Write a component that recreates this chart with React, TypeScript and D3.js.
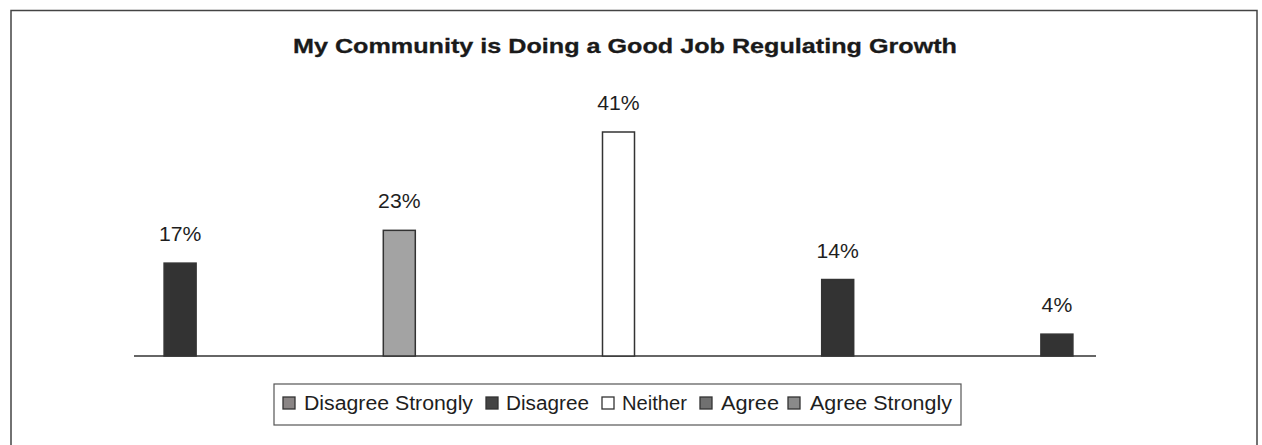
import React from "react";
import * as d3 from "d3";

const categories = ["Disagree Strongly", "Disagree", "Neither", "Agree", "Agree Strongly"];
const values = [17, 23, 41, 14, 4];
const labels = ["17%", "23%", "41%", "14%", "4%"];
const barFills = ["#333333", "#a3a3a3", "#ffffff", "#333333", "#333333"];
const legendFills = ["#8a8585", "#444444", "#ffffff", "#707070", "#8a8a8a"];
const title = "My Community is Doing a Good Job Regulating Growth";

export default function App() {
  const W = 1262, H = 445;
  const baseY = 356;
  const x = d3.scaleBand<string>().domain(categories).range([70.5, 1166.5]).paddingInner(0.854).paddingOuter(0.427);
  const y = d3.scaleLinear().domain([0, 41]).range([baseY, 132]);
  const font = "Arial, 'Liberation Sans', Helvetica, sans-serif";

  const legX = 274, legY = 384, legW = 687, legH = 41;
  const swX = [283, 486, 602, 700, 788];
  const txX = [304, 506, 622, 721, 810];
  const txW = [169, 83, 65, 58, 142];
  return (
    <svg width={W} height={H} style={{ position: "absolute", left: 0, top: 0, background: "#fff" }}>
      <rect x={0} y={0} width={W} height={H} fill="#fff" />
      <path d={`M11,${H} L11,10.5 L1257,10.5 L1257,${H}`} fill="none" stroke="#444" strokeWidth={1.5} />
      <text x={293} y={53} fontFamily={font} fontWeight="bold" fontSize={21} fill="#1a1a1a"
        stroke="#1a1a1a" strokeWidth={0.3}
        textLength={664} lengthAdjust="spacingAndGlyphs">{title}</text>
      <line x1={134} x2={1096} y1={baseY} y2={baseY} stroke="#333" strokeWidth={1.5} />
      {categories.map((c, i) => {
        const cx = x(c)! + x.bandwidth() / 2;
        const ty = y(values[i]) - 22;
        return (
          <g key={c}>
            <rect x={x(c)!} y={y(values[i])} width={x.bandwidth()} height={baseY - y(values[i])}
              fill={barFills[i]} stroke="#333" strokeWidth={1.5} />
            <text transform={`translate(${cx},${ty}) scale(1.06,1)`} textAnchor="middle" fontFamily={font} fontSize={20} fill="#1e1e1e">{labels[i]}</text>
          </g>
        );
      })}
      <rect x={legX} y={legY} width={legW} height={legH} fill="#fff" stroke="#555" strokeWidth={1.2} />
      {categories.map((c, i) => (
        <g key={c}>
          <rect x={swX[i]} y={397} width={12} height={12} fill={legendFills[i]} stroke="#333" strokeWidth={1.3} />
          <text x={txX[i]} y={410} fontFamily={font} fontSize={20} fill="#1e1e1e"
            textLength={txW[i]} lengthAdjust="spacingAndGlyphs">{c}</text>
        </g>
      ))}
    </svg>
  );
}
